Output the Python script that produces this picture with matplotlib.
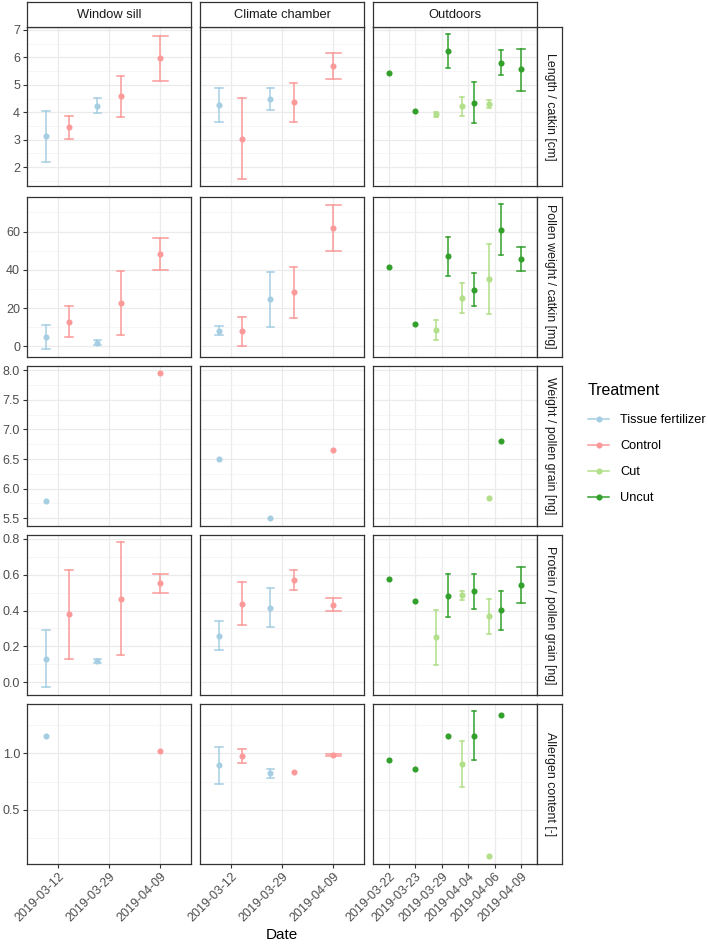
import numpy as np
import matplotlib
matplotlib.use("Agg")
import matplotlib.pyplot as plt
from matplotlib.ticker import MultipleLocator
from matplotlib.lines import Line2D

plt.rcParams["font.family"] = ["Liberation Sans", "DejaVu Sans"]
nan = np.nan

sites = ["Window sill", "Climate chamber", "Outdoors"]
ws_dates = ["2019-03-12", "2019-03-29", "2019-04-09"]
cc_dates = ["2019-03-12", "2019-03-29", "2019-04-09"]
out_dates = ["2019-03-22", "2019-03-23", "2019-03-29", "2019-04-04", "2019-04-06", "2019-04-09"]
treatments = ["Tissue fertilizer", "Control", "Cut", "Uncut"]
colors = ["#A6CEE3", "#FB9A99", "#B2DF8A", "#33A02C"]

# one entry per (site, date, treatment) measured
obs_site = ["Window sill"] * 5 + ["Climate chamber"] * 5 + ["Outdoors"] * 9
obs_date = ["2019-03-12", "2019-03-12", "2019-03-29", "2019-03-29", "2019-04-09",
            "2019-03-12", "2019-03-12", "2019-03-29", "2019-03-29", "2019-04-09",
            "2019-03-22", "2019-03-23", "2019-03-29", "2019-03-29", "2019-04-04",
            "2019-04-04", "2019-04-06", "2019-04-06", "2019-04-09"]
obs_treat = ["Tissue fertilizer", "Control", "Tissue fertilizer", "Control", "Control",
             "Tissue fertilizer", "Control", "Tissue fertilizer", "Control", "Control",
             "Uncut", "Uncut", "Cut", "Uncut", "Cut", "Uncut", "Cut", "Uncut", "Uncut"]

length_mean = [3.12, 3.46, 4.24, 4.58, 5.96, 4.27, 3.03, 4.48, 4.36, 5.68,
               5.43, 4.06, 3.92, 6.22, 4.22, 4.35, 4.30, 5.81, 5.56]
length_lo = [2.19, 3.03, 3.98, 3.82, 5.15, 3.65, 1.56, 4.09, 3.64, 5.20,
             nan, nan, 3.82, 5.61, 3.86, 3.61, 4.17, 5.36, 4.79]
length_hi = [4.04, 3.88, 4.52, 5.33, 6.76, 4.90, 4.52, 4.87, 5.07, 6.16,
             nan, nan, 4.00, 6.84, 4.55, 5.09, 4.45, 6.27, 6.30]

pollen_mean = [4.7, 12.8, 1.7, 22.6, 48.1, 8.3, 7.8, 24.7, 28.3, 61.9,
               41.6, 11.9, 8.5, 47.1, 25.5, 29.7, 35.3, 61.0, 45.7]
pollen_lo = [-1.5, 4.7, 0.5, 6.2, 39.8, 5.9, 0.3, 10.3, 15.0, 50.0,
             nan, nan, 3.3, 36.7, 17.6, 20.9, 17.1, 47.8, 39.5]
pollen_hi = [11.0, 21.0, 3.3, 39.3, 56.4, 10.9, 15.5, 39.1, 41.7, 74.0,
             nan, nan, 13.8, 57.4, 33.3, 38.4, 53.6, 74.3, 52.2]

grain_mean = [5.79, nan, nan, nan, 7.95, 6.50, nan, 5.50, nan, 6.66,
              nan, nan, nan, nan, nan, nan, 5.85, 6.81, nan]
grain_lo = [nan] * 19
grain_hi = [nan] * 19

protein_mean = [0.133, 0.378, 0.119, 0.466, 0.552, 0.261, 0.438, 0.416, 0.570, 0.433,
                0.575, 0.455, 0.250, 0.482, 0.484, 0.508, 0.369, 0.402, 0.544]
protein_lo = [-0.027, 0.128, 0.108, 0.153, 0.500, 0.183, 0.320, 0.311, 0.517, 0.398,
              nan, nan, 0.099, 0.365, 0.457, 0.407, 0.268, 0.292, 0.442]
protein_hi = [0.292, 0.628, 0.130, 0.780, 0.605, 0.342, 0.561, 0.524, 0.625, 0.468,
              nan, nan, 0.402, 0.601, 0.508, 0.605, 0.466, 0.510, 0.645]

allergen_mean = [1.156, nan, nan, nan, 1.021, 0.894, 0.979, 0.824, 0.832, 0.985,
                 0.938, 0.859, nan, 1.159, 0.903, 1.159, 0.085, 1.347, nan]
allergen_lo = [nan, nan, nan, nan, nan, 0.724, 0.918, 0.785, nan, 0.979,
               nan, nan, nan, nan, 0.700, 0.941, nan, nan, nan]
allergen_hi = [nan, nan, nan, nan, nan, 1.059, 1.041, 0.865, nan, 0.991,
               nan, nan, nan, nan, 1.112, 1.376, nan, nan, nan]

row_labels = ["Length / catkin [cm]", "Pollen weight / catkin [mg]",
              "Weight / pollen grain [ng]", "Protein / pollen grain [ng]",
              "Allergen content [-]"]
row_means = [length_mean, pollen_mean, grain_mean, protein_mean, allergen_mean]
row_los = [length_lo, pollen_lo, grain_lo, protein_lo, allergen_lo]
row_his = [length_hi, pollen_hi, grain_hi, protein_hi, allergen_hi]
row_major = [1, 20, 0.5, 0.2, 0.5]

site_dates = [ws_dates, cc_dates, out_dates]

# dodge positions (ggplot style, width 0.9), cap widths 0.3 split by group
x_pos, cap_half = [], []
for i in range(len(obs_site)):
    same = [j for j in range(len(obs_site))
            if obs_site[j] == obs_site[i] and obs_date[j] == obs_date[i]]
    same.sort(key=lambda j: treatments.index(obs_treat[j]))
    n = len(same)
    k = same.index(i)
    base = site_dates[sites.index(obs_site[i])].index(obs_date[i])
    x_pos.append(base + (k - (n - 1) / 2) * 0.9 / n)
    cap_half.append(0.15 / n)

W, H = 708, 947
fig = plt.figure(figsize=(W / 100, H / 100), dpi=100)


def px_axes(x, y, w, h):
    return fig.add_axes([x / W, 1 - (y + h) / H, w / W, h / H])


col_x = [27, 200, 373]
panel_w = 164
row_y = [27, 197, 366, 535, 704]
panel_h = 159.5
edge = "#333333"

for r in range(5):
    m = np.array(row_means[r], dtype=float)
    lo = np.array(row_los[r], dtype=float)
    hi = np.array(row_his[r], dtype=float)
    ymin = np.nanmin(np.concatenate([m, lo]))
    ymax = np.nanmax(np.concatenate([m, hi]))
    pad = (ymax - ymin) * 0.05
    for c, site in enumerate(sites):
        ax = px_axes(col_x[c], row_y[r], panel_w, panel_h)
        dates = site_dates[c]
        ax.set_xlim(-0.6, len(dates) - 0.4)
        ax.set_ylim(ymin - pad, ymax + pad)
        ax.set_axisbelow(True)
        ax.yaxis.set_major_locator(MultipleLocator(row_major[r]))
        ax.yaxis.set_minor_locator(MultipleLocator(row_major[r] / 2))
        ax.set_xticks(range(len(dates)))
        ax.grid(which="major", color="#EBEBEB", lw=0.9)
        ax.grid(which="minor", axis="y", color="#F3F3F3", lw=0.5)
        for s in ax.spines.values():
            s.set_color(edge)
            s.set_linewidth(0.9)
        ax.tick_params(which="minor", length=0)
        ax.tick_params(which="major", length=3, color=edge, width=0.8,
                       labelsize=9, labelcolor="#4D4D4D", pad=2)
        if c > 0:
            ax.tick_params(axis="y", left=False, labelleft=False)
        if r < 4:
            ax.tick_params(axis="x", bottom=False, labelbottom=False)
        else:
            ax.set_xticklabels(dates, rotation=45, ha="right",
                               rotation_mode="anchor")

        for i in range(len(obs_site)):
            if obs_site[i] != site:
                continue
            col = colors[treatments.index(obs_treat[i])]
            x = x_pos[i]
            if not np.isnan(lo[i]):
                ax.plot([x, x], [lo[i], hi[i]], color=col, lw=1.1)
                ax.plot([x - cap_half[i], x + cap_half[i]], [lo[i], lo[i]], color=col, lw=1.1)
                ax.plot([x - cap_half[i], x + cap_half[i]], [hi[i], hi[i]], color=col, lw=1.1)
            if not np.isnan(m[i]):
                ax.plot(x, m[i], "o", color=col, ms=4.4, mec="none")

        if r == 0:
            st = px_axes(col_x[c], 2, panel_w, 25)
            st.set_xticks([])
            st.set_yticks([])
            for s in st.spines.values():
                s.set_color(edge)
                s.set_linewidth(0.9)
            st.text(0.5, 0.5, site, ha="center", va="center", fontsize=9.3,
                    color="#1A1A1A", transform=st.transAxes)
        if c == 2:
            st = px_axes(537, row_y[r], 25, panel_h)
            st.set_xticks([])
            st.set_yticks([])
            for s in st.spines.values():
                s.set_color(edge)
                s.set_linewidth(0.9)
            st.text(0.5, 0.5, row_labels[r], ha="center", va="center",
                    fontsize=8.9, rotation=-90, color="#1A1A1A",
                    transform=st.transAxes)

fig.text(282 / W, 1 - 935 / H, "Date", ha="center", va="center", fontsize=11)

# legend: title as separate text, entries below
fig.text(588 / W, 1 - 390 / H, "Treatment", ha="left", va="center", fontsize=11.5)
handles = [Line2D([0], [0], color=col, lw=1.1, marker="o", ms=4.4, mec="none")
           for col in colors]
leg = fig.legend(handles, treatments, loc="upper left",
                 bbox_to_anchor=(588 / W, 1 - 414 / H), frameon=False,
                 borderpad=0, borderaxespad=0, fontsize=9.2,
                 handlelength=1.65, handletextpad=0.85, labelspacing=1.1)

fig.savefig("out.png", dpi=100)
